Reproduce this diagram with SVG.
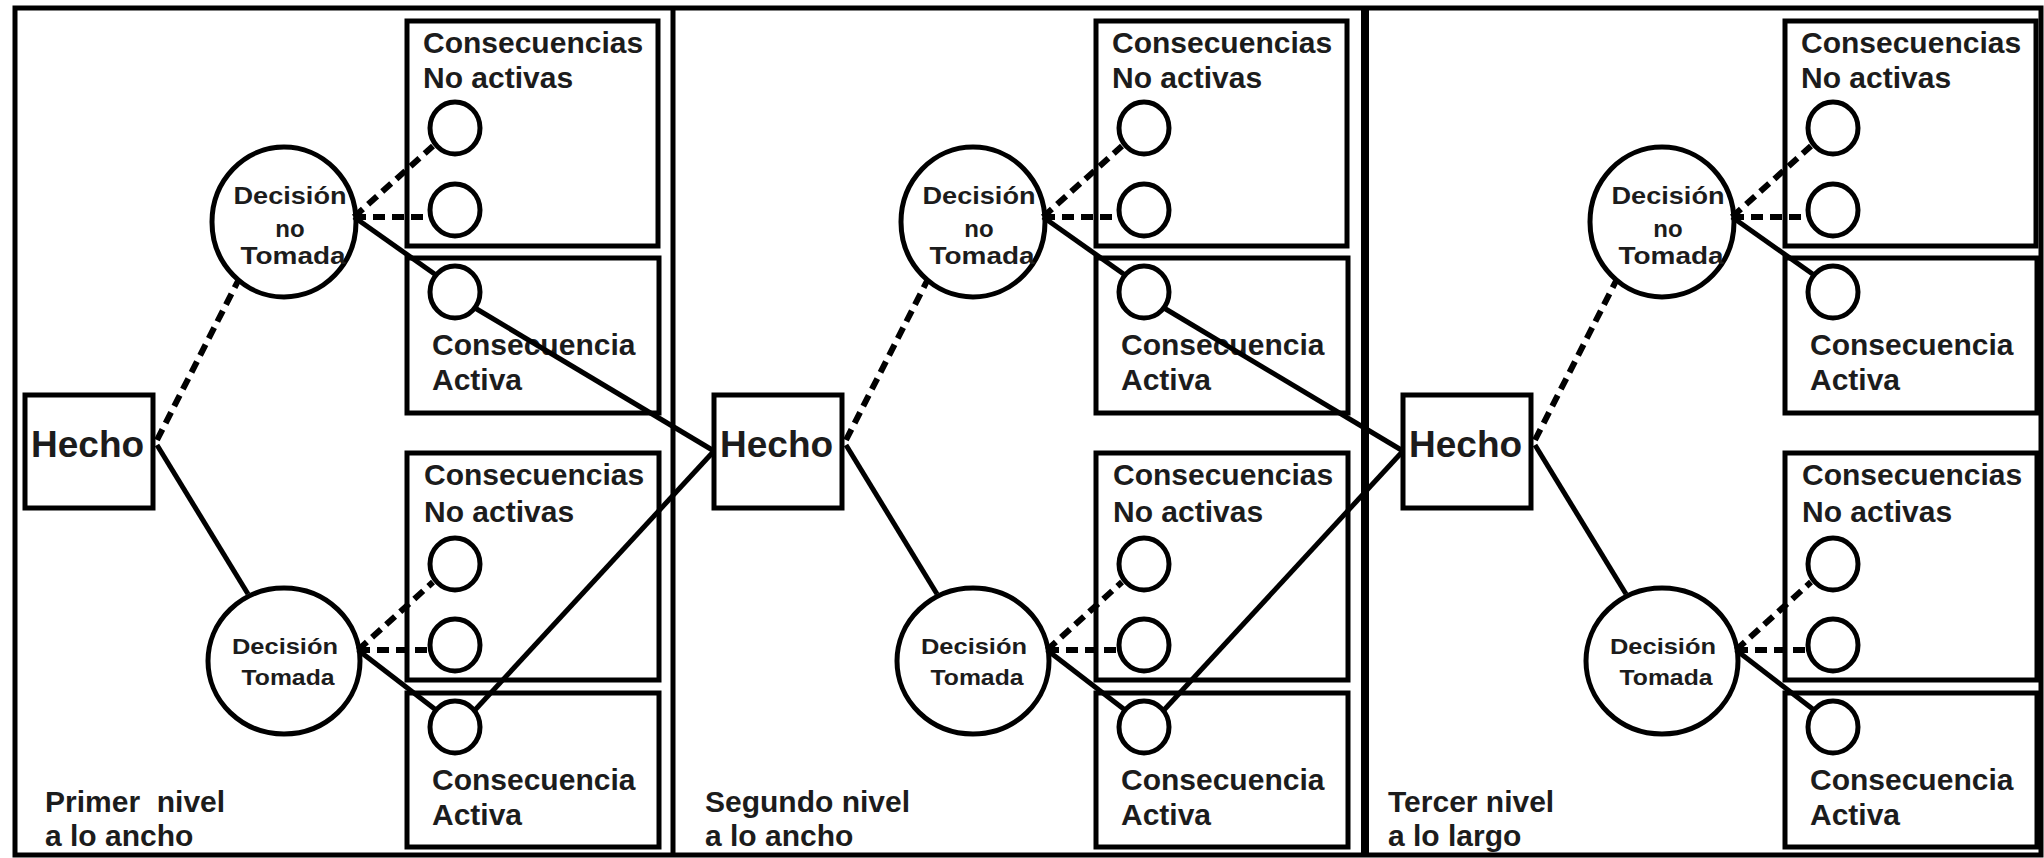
<svg xmlns="http://www.w3.org/2000/svg" width="2044" height="858" viewBox="0 0 2044 858">
<style>
.frame{fill:none;stroke:#000;stroke-width:5}
.box{fill:none;stroke:#000;stroke-width:5}
.dec{fill:none;stroke:#000;stroke-width:5}
.cir{fill:none;stroke:#000;stroke-width:5}
.t{font-family:"Liberation Sans",Arial,Helvetica,sans-serif;font-weight:bold;fill:#1c1c1c}
.big{font-size:30px}
.hecho{font-size:37px}
.d1{font-size:24px;text-anchor:middle}
.d2{font-size:22px;text-anchor:middle}
.solid{fill:none;stroke:#000;stroke-width:5}
.dash{fill:none;stroke:#000;stroke-width:6;stroke-dasharray:12 7}
</style>
<rect width="2044" height="858" fill="#fff"/>
<g id="frame">
<rect class="frame" x="15" y="8" width="2026" height="847"/>
<line class="frame" x1="673" y1="8" x2="673" y2="855"/>
<line class="frame" x1="1365" y1="8" x2="1365" y2="855" style="stroke-width:8"/>
</g>

<g id="panel1">
<g id="p1-hecho"><rect class="box" x="25" y="395" width="128" height="113"/><text class="t hecho" x="31" y="457">Hecho</text></g>
<g id="p1-dec-no"><ellipse class="dec" cx="284" cy="222" rx="72" ry="75"/><text class="t d1" x="290" y="204" textLength="113" lengthAdjust="spacingAndGlyphs">Decisión</text><text class="t d1" x="290" y="237">no</text><text class="t d1" x="293" y="264" textLength="105" lengthAdjust="spacingAndGlyphs">Tomada</text></g>
<g id="p1-dec-si"><ellipse class="dec" cx="284" cy="661" rx="76" ry="73"/><text class="t d2" x="285" y="654" textLength="106" lengthAdjust="spacingAndGlyphs">Decisión</text><text class="t d2" x="288" y="685" textLength="93" lengthAdjust="spacingAndGlyphs">Tomada</text></g>
<g id="p1-noact1"><rect class="box" x="407" y="21" width="251" height="225"/><text class="t big" x="423" y="53">Consecuencias</text><text class="t big" x="423" y="88">No activas</text><ellipse class="cir" cx="455" cy="128" rx="25" ry="26"/><ellipse class="cir" cx="455" cy="210" rx="25" ry="26"/></g>
<g id="p1-act1"><rect class="box" x="407" y="258" width="252" height="155"/><text class="t big" x="432" y="355">Consecuencia</text><text class="t big" x="432" y="390">Activa</text><ellipse class="cir" cx="455" cy="292" rx="25" ry="26"/></g>
<g id="p1-noact2"><rect class="box" x="407" y="453" width="252" height="227"/><text class="t big" x="424" y="485">Consecuencias</text><text class="t big" x="424" y="522">No activas</text><ellipse class="cir" cx="455" cy="564" rx="25" ry="26"/><ellipse class="cir" cx="455" cy="645" rx="25" ry="26"/></g>
<g id="p1-act2"><rect class="box" x="407" y="693" width="252" height="154"/><text class="t big" x="432" y="790">Consecuencia</text><text class="t big" x="432" y="825">Activa</text><ellipse class="cir" cx="455" cy="727" rx="25" ry="26"/></g>
<g id="p1-label"><text class="t big" x="45" y="812" xml:space="preserve">Primer  nivel</text><text class="t big" x="45" y="846">a lo ancho</text></g>
</g>

<g id="panel2" transform="translate(689,0)">
<g id="p2-hecho"><rect class="box" x="25" y="395" width="128" height="113"/><text class="t hecho" x="31" y="457">Hecho</text></g>
<g id="p2-dec-no"><ellipse class="dec" cx="284" cy="222" rx="72" ry="75"/><text class="t d1" x="290" y="204" textLength="113" lengthAdjust="spacingAndGlyphs">Decisión</text><text class="t d1" x="290" y="237">no</text><text class="t d1" x="293" y="264" textLength="105" lengthAdjust="spacingAndGlyphs">Tomada</text></g>
<g id="p2-dec-si"><ellipse class="dec" cx="284" cy="661" rx="76" ry="73"/><text class="t d2" x="285" y="654" textLength="106" lengthAdjust="spacingAndGlyphs">Decisión</text><text class="t d2" x="288" y="685" textLength="93" lengthAdjust="spacingAndGlyphs">Tomada</text></g>
<g id="p2-noact1"><rect class="box" x="407" y="21" width="251" height="225"/><text class="t big" x="423" y="53">Consecuencias</text><text class="t big" x="423" y="88">No activas</text><ellipse class="cir" cx="455" cy="128" rx="25" ry="26"/><ellipse class="cir" cx="455" cy="210" rx="25" ry="26"/></g>
<g id="p2-act1"><rect class="box" x="407" y="258" width="252" height="155"/><text class="t big" x="432" y="355">Consecuencia</text><text class="t big" x="432" y="390">Activa</text><ellipse class="cir" cx="455" cy="292" rx="25" ry="26"/></g>
<g id="p2-noact2"><rect class="box" x="407" y="453" width="252" height="227"/><text class="t big" x="424" y="485">Consecuencias</text><text class="t big" x="424" y="522">No activas</text><ellipse class="cir" cx="455" cy="564" rx="25" ry="26"/><ellipse class="cir" cx="455" cy="645" rx="25" ry="26"/></g>
<g id="p2-act2"><rect class="box" x="407" y="693" width="252" height="154"/><text class="t big" x="432" y="790">Consecuencia</text><text class="t big" x="432" y="825">Activa</text><ellipse class="cir" cx="455" cy="727" rx="25" ry="26"/></g>
<g id="p2-label"><text class="t big" x="16" y="812">Segundo nivel</text><text class="t big" x="16" y="846">a lo ancho</text></g>
</g>

<g id="panel3" transform="translate(1378,0)">
<g id="p3-hecho"><rect class="box" x="25" y="395" width="128" height="113"/><text class="t hecho" x="31" y="457">Hecho</text></g>
<g id="p3-dec-no"><ellipse class="dec" cx="284" cy="222" rx="72" ry="75"/><text class="t d1" x="290" y="204" textLength="113" lengthAdjust="spacingAndGlyphs">Decisión</text><text class="t d1" x="290" y="237">no</text><text class="t d1" x="293" y="264" textLength="105" lengthAdjust="spacingAndGlyphs">Tomada</text></g>
<g id="p3-dec-si"><ellipse class="dec" cx="284" cy="661" rx="76" ry="73"/><text class="t d2" x="285" y="654" textLength="106" lengthAdjust="spacingAndGlyphs">Decisión</text><text class="t d2" x="288" y="685" textLength="93" lengthAdjust="spacingAndGlyphs">Tomada</text></g>
<g id="p3-noact1"><rect class="box" x="407" y="21" width="251" height="225"/><text class="t big" x="423" y="53">Consecuencias</text><text class="t big" x="423" y="88">No activas</text><ellipse class="cir" cx="455" cy="128" rx="25" ry="26"/><ellipse class="cir" cx="455" cy="210" rx="25" ry="26"/></g>
<g id="p3-act1"><rect class="box" x="407" y="258" width="252" height="155"/><text class="t big" x="432" y="355">Consecuencia</text><text class="t big" x="432" y="390">Activa</text><ellipse class="cir" cx="455" cy="292" rx="25" ry="26"/></g>
<g id="p3-noact2"><rect class="box" x="407" y="453" width="252" height="227"/><text class="t big" x="424" y="485">Consecuencias</text><text class="t big" x="424" y="522">No activas</text><ellipse class="cir" cx="455" cy="564" rx="25" ry="26"/><ellipse class="cir" cx="455" cy="645" rx="25" ry="26"/></g>
<g id="p3-act2"><rect class="box" x="407" y="693" width="252" height="154"/><text class="t big" x="432" y="790">Consecuencia</text><text class="t big" x="432" y="825">Activa</text><ellipse class="cir" cx="455" cy="727" rx="25" ry="26"/></g>
<g id="p3-label"><text class="t big" x="10" y="812">Tercer nivel</text><text class="t big" x="10" y="846">a lo largo</text></g>
</g>

<g id="connectors">
<g id="c-p1">
<line class="dash" x1="157" y1="440" x2="238" y2="281"/>
<line class="solid" x1="157" y1="445" x2="248" y2="594"/>
<line class="dash" x1="354" y1="217" x2="433" y2="146"/>
<line class="dash" x1="354" y1="217" x2="430" y2="217"/>
<line class="solid" x1="354" y1="217" x2="436" y2="275"/>
<line class="dash" x1="358" y1="650" x2="433" y2="582"/>
<line class="dash" x1="358" y1="650" x2="430" y2="650"/>
<line class="solid" x1="358" y1="650" x2="436" y2="710"/>
<line class="solid" x1="475" y1="308" x2="714" y2="451"/>
<line class="solid" x1="475" y1="710" x2="714" y2="451"/>
</g>
<g id="c-p2" transform="translate(689,0)">
<line class="dash" x1="157" y1="440" x2="238" y2="281"/>
<line class="solid" x1="157" y1="445" x2="248" y2="594"/>
<line class="dash" x1="354" y1="217" x2="433" y2="146"/>
<line class="dash" x1="354" y1="217" x2="430" y2="217"/>
<line class="solid" x1="354" y1="217" x2="436" y2="275"/>
<line class="dash" x1="358" y1="650" x2="433" y2="582"/>
<line class="dash" x1="358" y1="650" x2="430" y2="650"/>
<line class="solid" x1="358" y1="650" x2="436" y2="710"/>
<line class="solid" x1="475" y1="308" x2="714" y2="451"/>
<line class="solid" x1="475" y1="710" x2="714" y2="451"/>
</g>
<g id="c-p3" transform="translate(1378,0)">
<line class="dash" x1="157" y1="440" x2="238" y2="281"/>
<line class="solid" x1="157" y1="445" x2="248" y2="594"/>
<line class="dash" x1="354" y1="217" x2="433" y2="146"/>
<line class="dash" x1="354" y1="217" x2="430" y2="217"/>
<line class="solid" x1="354" y1="217" x2="436" y2="275"/>
<line class="dash" x1="358" y1="650" x2="433" y2="582"/>
<line class="dash" x1="358" y1="650" x2="430" y2="650"/>
<line class="solid" x1="358" y1="650" x2="436" y2="710"/>
</g>
</g>
</svg>
